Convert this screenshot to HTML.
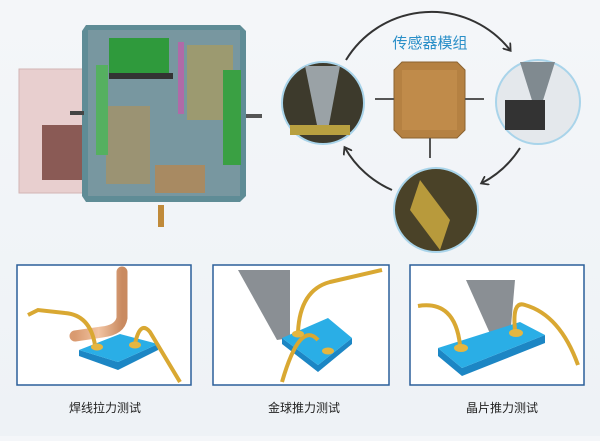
<!DOCTYPE html>
<html><head><meta charset="utf-8"><style>
body{margin:0;width:600px;height:436px;overflow:hidden;background:linear-gradient(180deg,#f4f6f9,#eef2f6);font-family:"Liberation Sans","Noto Sans CJK SC",sans-serif}
</style></head><body>
<svg width="600" height="436" viewBox="0 0 600 436" xmlns="http://www.w3.org/2000/svg">
<defs>
<linearGradient id="cu" x1="0" x2="1"><stop offset="0" stop-color="#d99a70"/><stop offset=".5" stop-color="#f2c4a2"/><stop offset="1" stop-color="#c98a60"/></linearGradient>
<marker id="ah" markerWidth="10" markerHeight="10" refX="6" refY="5" orient="auto" markerUnits="userSpaceOnUse"><path d="M0,0 L7,5 L0,10" fill="none" stroke="#333" stroke-width="1.8"/></marker>
</defs>
<rect x="19" y="69" width="64" height="124" fill="#e8cfcf" stroke="#d2b4b4"/>
<rect x="42" y="125" width="40" height="55" fill="#8a5a55"/>
<path d="M86,25 L240,25 L246,31 L246,196 L240,202 L86,202 L82,196 L82,31Z" fill="#5f8c96"/>
<rect x="88" y="30" width="152" height="166" fill="#7897a0"/>
<rect x="109" y="38" width="60" height="35" fill="#2f9a3c"/>
<rect x="109" y="73" width="64" height="6" fill="#333"/>
<rect x="187" y="45" width="46" height="75" fill="#9c9a70"/>
<rect x="106" y="106" width="44" height="78" fill="#9b9373"/>
<rect x="155" y="165" width="50" height="28" fill="#a88a62"/>
<rect x="223" y="70" width="18" height="95" fill="#3aa043"/>
<rect x="178" y="42" width="6" height="72" fill="#b06aa8"/>
<rect x="96" y="65" width="12" height="90" fill="#55b060"/>
<rect x="158" y="205" width="6" height="22" fill="#c08a3a"/>
<rect x="70" y="111" width="14" height="4" fill="#444"/><rect x="246" y="114" width="16" height="4" fill="#555"/>
<path d="M346,60 A100,100 0 0 1 510,50" fill="none" stroke="#333" stroke-width="2" marker-end="url(#ah)"/>
<path d="M520,148 A100,100 0 0 1 482,183" fill="none" stroke="#333" stroke-width="2" marker-end="url(#ah)"/>
<path d="M392,190 A100,100 0 0 1 345,148" fill="none" stroke="#333" stroke-width="2" marker-end="url(#ah)"/>
<text x="430" y="48" text-anchor="middle" font-size="15" fill="#2a8fc8">传感器模组</text>
<path d="M402,62 L457,62 L465,70 L465,130 L457,138 L402,138 L394,130 L394,70Z" fill="#b58142" stroke="#8c6330"/>
<rect x="402" y="70" width="55" height="60" fill="#c08b4a"/>
<line x1="375" y1="99" x2="394" y2="99" stroke="#555" stroke-width="2"/><line x1="465" y1="99" x2="484" y2="99" stroke="#555" stroke-width="2"/><line x1="430" y1="138" x2="430" y2="158" stroke="#555" stroke-width="2"/>
<circle cx="323" cy="103" r="41" fill="#3d3a2c" stroke="#a9d4ea" stroke-width="2"/>
<path d="M305,66 L340,66 L328,130 L318,130Z" fill="#9aa2a6"/><rect x="290" y="125" width="60" height="10" fill="#b8a040"/>
<circle cx="538" cy="102" r="42" fill="#e4e8ec" stroke="#a9d4ea" stroke-width="2"/>
<path d="M520,62 L555,62 L540,110 L535,110Z" fill="#808a90"/><rect x="505" y="100" width="40" height="30" fill="#333"/>
<circle cx="436" cy="210" r="42" fill="#4a4228" stroke="#a9d4ea" stroke-width="2"/>
<path d="M420,180 L450,220 L440,250 L410,210Z" fill="#b89a3c"/>
<g stroke="#2b5f9a" stroke-width="1.5" fill="#fff">
<rect x="17" y="265" width="174" height="120"/><rect x="213" y="265" width="176" height="120"/><rect x="410" y="265" width="174" height="120"/></g>
<!-- box1 -->
<path d="M122,272 L122,318 Q120,330 102,332 L75,336" fill="none" stroke="url(#cu)" stroke-width="11" stroke-linecap="round"/>
<path d="M79,350 L79,356 L118,370 L158,350 L158,344 L118,362Z" fill="#1c86c4"/>
<path d="M79,350 L120,334 L158,344 L118,362Z" fill="#2aaee6"/>
<path d="M28,315 L38,310 L65,313 Q90,315 95,345" fill="none" stroke="#d9a832" stroke-width="4"/>
<path d="M135,344 Q140,320 150,332 L180,382" fill="none" stroke="#d9a832" stroke-width="4"/>
<ellipse cx="97" cy="347" rx="6" ry="3.5" fill="#e5b640"/><ellipse cx="135" cy="345" rx="6" ry="3.5" fill="#e5b640"/>
<!-- box2 -->
<path d="M238,270 L290,270 L290,338 L277,340Z" fill="#8a8f94"/>
<path d="M282,338 L282,344 L318,372 L352,344 L352,338 L318,365Z" fill="#1c86c4"/>
<path d="M282,338 L328,318 L352,338 L318,365Z" fill="#2aaee6"/>
<path d="M298,332 Q300,290 330,282 L382,270" fill="none" stroke="#d9a832" stroke-width="4"/>
<path d="M282,382 Q300,320 318,340" fill="none" stroke="#d9a832" stroke-width="4"/>
<ellipse cx="298" cy="334" rx="6" ry="3.5" fill="#e5b640"/><ellipse cx="328" cy="351" rx="6" ry="3.5" fill="#e5b640"/>
<!-- box3 -->
<path d="M466,280 L515,280 L510,338 L492,338Z" fill="#8a8f94"/>
<path d="M438,348 L438,356 L462,376 L545,343 L545,335 L462,368Z" fill="#1c86c4"/>
<path d="M438,348 L520,322 L545,335 L462,368Z" fill="#2aaee6"/>
<path d="M418,306 Q455,300 460,345" fill="none" stroke="#d9a832" stroke-width="4"/>
<path d="M515,330 Q512,300 525,305 Q560,315 578,365" fill="none" stroke="#d9a832" stroke-width="4"/>
<ellipse cx="461" cy="348" rx="7" ry="4" fill="#e5b640"/><ellipse cx="516" cy="333" rx="7" ry="4" fill="#e5b640"/>
<g font-size="12" fill="#222" text-anchor="middle">
<text x="105" y="412">焊线拉力测试</text><text x="304" y="412">金球推力测试</text><text x="502" y="412">晶片推力测试</text></g>
</svg>
</body></html>
